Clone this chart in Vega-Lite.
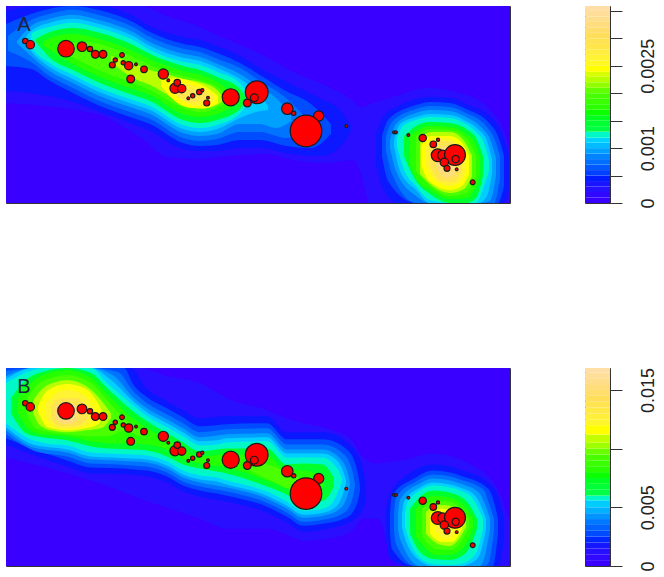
{"$schema":"https://vega.github.io/schema/vega-lite/v6.json","padding":{"left":5,"top":5,"right":0,"bottom":0},"background":"white","spacing":157,"resolve":{"scale":{"color":"independent"}},"datasets":{
"pts":[{"x":19.3,"y":35,"s":7},{"x":24.3,"y":38.7,"s":18.5},{"x":60,"y":42.7,"s":76},{"x":76,"y":40.7,"s":25},{"x":84,"y":43,"s":7},{"x":89.3,"y":48.3,"s":16},{"x":97,"y":48.3,"s":16},{"x":116,"y":49,"s":5.3},{"x":109.3,"y":54,"s":4},{"x":106.3,"y":59,"s":9},{"x":117.3,"y":56.7,"s":4},{"x":122.7,"y":59.7,"s":18.5},{"x":130,"y":58.3,"s":1},{"x":138,"y":63.3,"s":11},{"x":124.7,"y":73,"s":16},{"x":157.3,"y":68,"s":28},{"x":162.3,"y":74.3,"s":1},{"x":169,"y":82.3,"s":28},{"x":171.3,"y":76.7,"s":11},{"x":175.7,"y":82.7,"s":18.5},{"x":182.3,"y":92.3,"s":1},{"x":186.7,"y":89.7,"s":4},{"x":193.3,"y":86,"s":7},{"x":196.3,"y":84.3,"s":1.7},{"x":202,"y":91.7,"s":1},{"x":200.7,"y":97,"s":9},{"x":224.7,"y":91.3,"s":81},{"x":250.7,"y":86.3,"s":144},{"x":248.3,"y":91.7,"s":16},{"x":241.3,"y":97,"s":16},{"x":281.3,"y":102.7,"s":36},{"x":287.7,"y":107.3,"s":4},{"x":312.7,"y":110,"s":28},{"x":300,"y":125,"s":279},{"x":340.3,"y":120,"s":1},{"x":388,"y":126.3,"s":1},{"x":390,"y":126.3,"s":1},{"x":402.3,"y":129,"s":1},{"x":416.7,"y":132,"s":14},{"x":432,"y":133.7,"s":1.7},{"x":427.3,"y":138.3,"s":11},{"x":431.7,"y":149.3,"s":45},{"x":436.7,"y":149.3,"s":28},{"x":449,"y":149,"s":121},{"x":449.7,"y":153,"s":14},{"x":438.3,"y":156.3,"s":18.5},{"x":441,"y":162.3,"s":9},{"x":450.7,"y":163.3,"s":1},{"x":466.7,"y":176.3,"s":5.3}],
"heatA":[
{"l":0,"b":"a","x":0,"y":0,"y2":197},{"l":0,"b":"a","x":504,"y":0,"y2":197},
{"l":0.00018,"b":"a","x":0,"y":0,"y2":97},{"l":0.00018,"b":"a","x":94,"y":0,"y2":109},{"l":0.00018,"b":"a","x":127,"y":0,"y2":127},{"l":0.00018,"b":"a","x":134,"y":0,"y2":131},{"l":0.00018,"b":"a","x":161,"y":10,"y2":151},{"l":0.00018,"b":"a","x":194,"y":21,"y2":153},{"l":0.00018,"b":"a","x":211,"y":29,"y2":151},{"l":0.00018,"b":"a","x":261,"y":51,"y2":148},{"l":0.00018,"b":"a","x":287,"y":66,"y2":154},{"l":0.00018,"b":"a","x":321,"y":80,"y2":157},{"l":0.00018,"b":"a","x":347,"y":95,"y2":154},{"l":0.00018,"b":"a","x":354,"y":101,"y2":165},{"l":0.00018,"b":"a","x":364,"y":98,"y2":197},{"l":0.00018,"b":"a","x":387,"y":91,"y2":197},{"l":0.00018,"b":"a","x":421,"y":82,"y2":197},{"l":0.00018,"b":"a","x":454,"y":87,"y2":197},{"l":0.00018,"b":"a","x":487,"y":107,"y2":197},{"l":0.00018,"b":"a","x":502,"y":137,"y2":197},{"l":0.00018,"b":"a","x":504,"y":145,"y2":190},
{"l":0.00036,"b":"w","x":0,"y":5,"y2":85},{"l":0.00036,"b":"w","x":30,"y":0,"y2":88},{"l":0.00036,"b":"w","x":67,"y":0,"y2":96},{"l":0.00036,"b":"w","x":94,"y":0,"y2":106},{"l":0.00036,"b":"w","x":127,"y":10,"y2":118},{"l":0.00036,"b":"w","x":144,"y":20,"y2":125},{"l":0.00036,"b":"w","x":177,"y":31,"y2":143},{"l":0.00036,"b":"w","x":194,"y":34,"y2":145},{"l":0.00036,"b":"w","x":211,"y":40,"y2":145},{"l":0.00036,"b":"w","x":234,"y":50,"y2":142},{"l":0.00036,"b":"w","x":254,"y":62,"y2":142},{"l":0.00036,"b":"w","x":285,"y":78,"y2":148},{"l":0.00036,"b":"w","x":315,"y":93,"y2":150},{"l":0.00036,"b":"w","x":335,"y":105,"y2":140},{"l":0.00036,"b":"w","x":345,"y":120,"y2":125},
{"l":0.00036,"b":"e","x":370,"y":128,"y2":160},{"l":0.00036,"b":"e","x":378,"y":110,"y2":185},{"l":0.00036,"b":"e","x":392,"y":100,"y2":197},{"l":0.00036,"b":"e","x":410,"y":93,"y2":197},{"l":0.00036,"b":"e","x":424,"y":91,"y2":197},{"l":0.00036,"b":"e","x":444,"y":92,"y2":197},{"l":0.00036,"b":"e","x":460,"y":98,"y2":197},{"l":0.00036,"b":"e","x":488,"y":114,"y2":197},{"l":0.00036,"b":"e","x":497,"y":130,"y2":197},{"l":0.00036,"b":"e","x":503,"y":150,"y2":185},
{"l":0.00054,"b":"w","x":0,"y":18,"y2":60},{"l":0.00054,"b":"w","x":25,"y":8,"y2":63},{"l":0.00054,"b":"w","x":44,"y":2.7,"y2":75},{"l":0.00054,"b":"w","x":67,"y":0,"y2":87},{"l":0.00054,"b":"w","x":94,"y":4.3,"y2":100},{"l":0.00054,"b":"w","x":127,"y":16,"y2":112},{"l":0.00054,"b":"w","x":144,"y":26,"y2":118},{"l":0.00054,"b":"w","x":177,"y":37.7,"y2":137},{"l":0.00054,"b":"w","x":194,"y":41,"y2":140},{"l":0.00054,"b":"w","x":211,"y":47,"y2":139},{"l":0.00054,"b":"w","x":234,"y":57,"y2":134},{"l":0.00054,"b":"w","x":254,"y":69,"y2":134},{"l":0.00054,"b":"w","x":280,"y":85,"y2":140},{"l":0.00054,"b":"w","x":305,"y":98,"y2":142},{"l":0.00054,"b":"w","x":325,"y":118,"y2":128},
{"l":0.00054,"b":"e","x":376,"y":130,"y2":150},{"l":0.00054,"b":"e","x":382,"y":114,"y2":175},{"l":0.00054,"b":"e","x":410,"y":99,"y2":197},{"l":0.00054,"b":"e","x":424,"y":96,"y2":197},{"l":0.00054,"b":"e","x":444,"y":97,"y2":197},{"l":0.00054,"b":"e","x":460,"y":103,"y2":197},{"l":0.00054,"b":"e","x":484,"y":118,"y2":197},{"l":0.00054,"b":"e","x":492,"y":130,"y2":197},{"l":0.00054,"b":"e","x":498,"y":150,"y2":180},
{"l":0.00072,"b":"w","x":2,"y":30,"y2":45},{"l":0.00072,"b":"w","x":25,"y":14,"y2":56},{"l":0.00072,"b":"w","x":44,"y":7.7,"y2":70.3},{"l":0.00072,"b":"w","x":67,"y":3.7,"y2":82},{"l":0.00072,"b":"w","x":94,"y":9.3,"y2":95.3},{"l":0.00072,"b":"w","x":127,"y":21,"y2":107},{"l":0.00072,"b":"w","x":144,"y":31,"y2":113},{"l":0.00072,"b":"w","x":177,"y":42.7,"y2":132},{"l":0.00072,"b":"w","x":194,"y":46,"y2":135},{"l":0.00072,"b":"w","x":211,"y":52.7,"y2":133},{"l":0.00072,"b":"w","x":234,"y":62,"y2":126},{"l":0.00072,"b":"w","x":254,"y":75,"y2":126},{"l":0.00072,"b":"w","x":280,"y":92,"y2":132},{"l":0.00072,"b":"w","x":305,"y":118,"y2":122},
{"l":0.00072,"b":"e","x":380,"y":130,"y2":145},{"l":0.00072,"b":"e","x":386,"y":116,"y2":168},{"l":0.00072,"b":"e","x":410,"y":103,"y2":197},{"l":0.00072,"b":"e","x":424,"y":100,"y2":197},{"l":0.00072,"b":"e","x":444,"y":101,"y2":197},{"l":0.00072,"b":"e","x":460,"y":107,"y2":197},{"l":0.00072,"b":"e","x":480,"y":120,"y2":197},{"l":0.00072,"b":"e","x":488,"y":132,"y2":197},{"l":0.00072,"b":"e","x":494,"y":150,"y2":172},
{"l":0.0009,"b":"w","x":11,"y":35,"y2":37},{"l":0.0009,"b":"w","x":25,"y":20,"y2":50},{"l":0.0009,"b":"w","x":44,"y":12.7,"y2":65.3},{"l":0.0009,"b":"w","x":67,"y":8.7,"y2":77},{"l":0.0009,"b":"w","x":94,"y":14.3,"y2":90.3},{"l":0.0009,"b":"w","x":127,"y":26,"y2":102},{"l":0.0009,"b":"w","x":144,"y":36,"y2":108},{"l":0.0009,"b":"w","x":177,"y":47.7,"y2":127},{"l":0.0009,"b":"w","x":194,"y":51,"y2":130},{"l":0.0009,"b":"w","x":211,"y":57.7,"y2":128},{"l":0.0009,"b":"w","x":234,"y":68,"y2":118},{"l":0.0009,"b":"w","x":254,"y":82,"y2":118},{"l":0.0009,"b":"w","x":270,"y":92,"y2":122},{"l":0.0009,"b":"w","x":285,"y":110,"y2":115},
{"l":0.0009,"b":"e","x":384,"y":134,"y2":142},{"l":0.0009,"b":"e","x":390,"y":118,"y2":165},{"l":0.0009,"b":"e","x":410,"y":107,"y2":190},{"l":0.0009,"b":"e","x":424,"y":104,"y2":197},{"l":0.0009,"b":"e","x":444,"y":105,"y2":197},{"l":0.0009,"b":"e","x":460,"y":111,"y2":197},{"l":0.0009,"b":"e","x":476,"y":122,"y2":197},{"l":0.0009,"b":"e","x":484,"y":133,"y2":195},{"l":0.0009,"b":"e","x":490,"y":152,"y2":170},
{"l":0.00108,"b":"w","x":18,"y":33,"y2":35},{"l":0.00108,"b":"w","x":25,"y":25,"y2":45},{"l":0.00108,"b":"w","x":44,"y":16.7,"y2":61.3},{"l":0.00108,"b":"w","x":67,"y":12.7,"y2":73},{"l":0.00108,"b":"w","x":94,"y":18.3,"y2":86.3},{"l":0.00108,"b":"w","x":127,"y":30,"y2":98},{"l":0.00108,"b":"w","x":144,"y":40,"y2":104},{"l":0.00108,"b":"w","x":177,"y":51.7,"y2":123},{"l":0.00108,"b":"w","x":194,"y":55,"y2":126},{"l":0.00108,"b":"w","x":211,"y":61.7,"y2":123},{"l":0.00108,"b":"w","x":234,"y":73,"y2":112},{"l":0.00108,"b":"w","x":250,"y":85,"y2":106},{"l":0.00108,"b":"w","x":262,"y":100,"y2":104},
{"l":0.00108,"b":"e","x":388,"y":134,"y2":140},{"l":0.00108,"b":"e","x":394,"y":118,"y2":165},{"l":0.00108,"b":"e","x":410,"y":111,"y2":184},{"l":0.00108,"b":"e","x":424,"y":108,"y2":197},{"l":0.00108,"b":"e","x":444,"y":109,"y2":197},{"l":0.00108,"b":"e","x":460,"y":115,"y2":197},{"l":0.00108,"b":"e","x":473,"y":124,"y2":197},{"l":0.00108,"b":"e","x":481,"y":135,"y2":190},{"l":0.00108,"b":"e","x":486,"y":153,"y2":168},
{"l":0.00119,"b":"w","x":25,"y":33,"y2":33.5},{"l":0.00119,"b":"w","x":26,"y":27.3,"y2":40.7},{"l":0.00119,"b":"w","x":44,"y":20.7,"y2":57.3},{"l":0.00119,"b":"w","x":67,"y":16.7,"y2":69},{"l":0.00119,"b":"w","x":94,"y":22.3,"y2":82.3},{"l":0.00119,"b":"w","x":127,"y":34,"y2":94},{"l":0.00119,"b":"w","x":144,"y":44,"y2":100},{"l":0.00119,"b":"w","x":177,"y":55.7,"y2":119},{"l":0.00119,"b":"w","x":194,"y":59,"y2":122},{"l":0.00119,"b":"w","x":211,"y":65.7,"y2":119},{"l":0.00119,"b":"w","x":234,"y":77.3,"y2":107.3},{"l":0.00119,"b":"w","x":244,"y":92,"y2":94},
{"l":0.00119,"b":"e","x":391,"y":132,"y2":140},{"l":0.00119,"b":"e","x":397,"y":120,"y2":161},{"l":0.00119,"b":"e","x":410,"y":114,"y2":180},{"l":0.00119,"b":"e","x":424,"y":111,"y2":194},{"l":0.00119,"b":"e","x":444,"y":112,"y2":197},{"l":0.00119,"b":"e","x":460,"y":118,"y2":197},{"l":0.00119,"b":"e","x":470,"y":126,"y2":197},{"l":0.00119,"b":"e","x":478,"y":137,"y2":180},{"l":0.00119,"b":"e","x":483,"y":155,"y2":165},
{"l":0.00144,"b":"w","x":30,"y":33,"y2":36},{"l":0.00144,"b":"w","x":44,"y":26,"y2":52},{"l":0.00144,"b":"w","x":67,"y":22,"y2":64},{"l":0.00144,"b":"w","x":94,"y":27,"y2":77},{"l":0.00144,"b":"w","x":127,"y":39,"y2":89},{"l":0.00144,"b":"w","x":144,"y":48,"y2":95},{"l":0.00144,"b":"w","x":177,"y":60,"y2":114},{"l":0.00144,"b":"w","x":194,"y":64,"y2":117},{"l":0.00144,"b":"w","x":211,"y":71,"y2":114},{"l":0.00144,"b":"w","x":234,"y":83,"y2":103},{"l":0.00144,"b":"w","x":240,"y":92,"y2":95},
{"l":0.00144,"b":"e","x":398,"y":130,"y2":150},{"l":0.00144,"b":"e","x":410,"y":120,"y2":175},{"l":0.00144,"b":"e","x":424,"y":116,"y2":188},{"l":0.00144,"b":"e","x":444,"y":117,"y2":197},{"l":0.00144,"b":"e","x":460,"y":123,"y2":197},{"l":0.00144,"b":"e","x":470,"y":132,"y2":192},{"l":0.00144,"b":"e","x":477,"y":150,"y2":170},
{"l":0.00169,"b":"w","x":38,"y":35,"y2":40},{"l":0.00169,"b":"w","x":50,"y":30,"y2":48},{"l":0.00169,"b":"w","x":67,"y":28,"y2":58},{"l":0.00169,"b":"w","x":94,"y":33,"y2":71},{"l":0.00169,"b":"w","x":127,"y":45,"y2":83},{"l":0.00169,"b":"w","x":144,"y":53,"y2":89},{"l":0.00169,"b":"w","x":177,"y":65,"y2":108},{"l":0.00169,"b":"w","x":194,"y":69,"y2":111},{"l":0.00169,"b":"w","x":211,"y":76,"y2":108},{"l":0.00169,"b":"w","x":230,"y":90,"y2":98},
{"l":0.00169,"b":"e","x":404,"y":130,"y2":160},{"l":0.00169,"b":"e","x":412,"y":124,"y2":175},{"l":0.00169,"b":"e","x":424,"y":120,"y2":184},{"l":0.00169,"b":"e","x":444,"y":121,"y2":193},{"l":0.00169,"b":"e","x":460,"y":128,"y2":192},{"l":0.00169,"b":"e","x":468,"y":136,"y2":185},{"l":0.00169,"b":"e","x":474,"y":152,"y2":168},
{"l":0.00194,"b":"w","x":60,"y":38,"y2":48},{"l":0.00194,"b":"w","x":80,"y":36,"y2":58},{"l":0.00194,"b":"w","x":100,"y":40,"y2":67},{"l":0.00194,"b":"w","x":127,"y":51,"y2":77},{"l":0.00194,"b":"w","x":144,"y":59,"y2":84},{"l":0.00194,"b":"w","x":177,"y":70,"y2":102},{"l":0.00194,"b":"w","x":194,"y":74,"y2":106},{"l":0.00194,"b":"w","x":211,"y":81,"y2":102},{"l":0.00194,"b":"w","x":224,"y":92,"y2":94},
{"l":0.00194,"b":"e","x":410,"y":130,"y2":165},{"l":0.00194,"b":"e","x":424,"y":123,"y2":180},{"l":0.00194,"b":"e","x":444,"y":124,"y2":190},{"l":0.00194,"b":"e","x":460,"y":132,"y2":187},{"l":0.00194,"b":"e","x":470,"y":150,"y2":170},
{"l":0.0022,"b":"w","x":105,"y":50,"y2":56},{"l":0.0022,"b":"w","x":127,"y":57,"y2":72},{"l":0.0022,"b":"w","x":144,"y":64,"y2":79},{"l":0.0022,"b":"w","x":160,"y":68,"y2":88},{"l":0.0022,"b":"w","x":177,"y":73,"y2":98},{"l":0.0022,"b":"w","x":194,"y":76,"y2":103},{"l":0.0022,"b":"w","x":211,"y":84,"y2":99},{"l":0.0022,"b":"w","x":218,"y":92,"y2":94},
{"l":0.0022,"b":"e","x":414,"y":132,"y2":168},{"l":0.0022,"b":"e","x":424,"y":126,"y2":178},{"l":0.0022,"b":"e","x":444,"y":126,"y2":187},{"l":0.0022,"b":"e","x":458,"y":135,"y2":183},{"l":0.0022,"b":"e","x":466,"y":150,"y2":170},
{"l":0.00239,"b":"w","x":155,"y":74,"y2":80},{"l":0.00239,"b":"w","x":170,"y":72,"y2":96},{"l":0.00239,"b":"w","x":185,"y":75,"y2":102},{"l":0.00239,"b":"w","x":200,"y":81,"y2":102},{"l":0.00239,"b":"w","x":212,"y":90,"y2":97},
{"l":0.00239,"b":"e","x":415,"y":140,"y2":160},{"l":0.00239,"b":"e","x":424,"y":130,"y2":176},{"l":0.00239,"b":"e","x":444,"y":130,"y2":184},{"l":0.00239,"b":"e","x":456,"y":137,"y2":180},{"l":0.00239,"b":"e","x":463,"y":150,"y2":168},
{"l":0.00259,"b":"w","x":165,"y":80,"y2":85},{"l":0.00259,"b":"w","x":175,"y":77,"y2":94},{"l":0.00259,"b":"w","x":190,"y":80,"y2":100},{"l":0.00259,"b":"w","x":205,"y":86,"y2":97},{"l":0.00259,"b":"w","x":209,"y":91,"y2":93},
{"l":0.00259,"b":"e","x":420,"y":140,"y2":160},{"l":0.00259,"b":"e","x":430,"y":132,"y2":175},{"l":0.00259,"b":"e","x":444,"y":133,"y2":180},{"l":0.00259,"b":"e","x":455,"y":142,"y2":175},{"l":0.00259,"b":"e","x":460,"y":155,"y2":165},
{"l":0.00288,"b":"w","x":172,"y":84,"y2":90},{"l":0.00288,"b":"w","x":185,"y":83,"y2":96},{"l":0.00288,"b":"w","x":200,"y":87,"y2":94},{"l":0.00288,"b":"w","x":203,"y":90,"y2":91},
{"l":0.00288,"b":"e","x":424,"y":142,"y2":160},{"l":0.00288,"b":"e","x":435,"y":135,"y2":175},{"l":0.00288,"b":"e","x":447,"y":137,"y2":176},{"l":0.00288,"b":"e","x":456,"y":150,"y2":165},
{"l":0.00317,"b":"e","x":430,"y":145,"y2":160},{"l":0.00317,"b":"e","x":440,"y":140,"y2":172},{"l":0.00317,"b":"e","x":450,"y":145,"y2":168}
],
"heatB":[
{"l":0,"b":"a","x":0,"y":0,"y2":197},{"l":0,"b":"a","x":504,"y":0,"y2":197},
{"l":0.00085,"b":"a","x":0,"y":0,"y2":89},{"l":0.00085,"b":"a","x":94,"y":0,"y2":115},{"l":0.00085,"b":"a","x":134,"y":0,"y2":130},{"l":0.00085,"b":"a","x":161,"y":8,"y2":139},{"l":0.00085,"b":"a","x":194,"y":15,"y2":150},{"l":0.00085,"b":"a","x":221,"y":30,"y2":160},{"l":0.00085,"b":"a","x":261,"y":42,"y2":160},{"l":0.00085,"b":"a","x":281,"y":50,"y2":166},{"l":0.00085,"b":"a","x":297,"y":55,"y2":172},{"l":0.00085,"b":"a","x":321,"y":60,"y2":170},{"l":0.00085,"b":"a","x":346,"y":72,"y2":162},{"l":0.00085,"b":"a","x":357,"y":89,"y2":150},{"l":0.00085,"b":"a","x":372,"y":95,"y2":150},{"l":0.00085,"b":"a","x":387,"y":93,"y2":192},{"l":0.00085,"b":"a","x":395,"y":92,"y2":197},{"l":0.00085,"b":"a","x":427,"y":85,"y2":197},{"l":0.00085,"b":"a","x":467,"y":97,"y2":197},{"l":0.00085,"b":"a","x":494,"y":125,"y2":197},{"l":0.00085,"b":"a","x":502,"y":149,"y2":197},{"l":0.00085,"b":"a","x":504,"y":155,"y2":185},
{"l":0.0017,"b":"w","x":0,"y":0,"y2":76},{"l":0.0017,"b":"w","x":61,"y":0,"y2":98},{"l":0.0017,"b":"w","x":85,"y":0,"y2":105},{"l":0.0017,"b":"w","x":125,"y":0,"y2":106},{"l":0.0017,"b":"w","x":141,"y":21,"y2":108},{"l":0.0017,"b":"w","x":161,"y":33,"y2":114},{"l":0.0017,"b":"w","x":177,"y":42,"y2":123},{"l":0.0017,"b":"w","x":194,"y":50,"y2":128},{"l":0.0017,"b":"w","x":221,"y":48,"y2":133},{"l":0.0017,"b":"w","x":261,"y":48,"y2":144},{"l":0.0017,"b":"w","x":281,"y":64,"y2":154},{"l":0.0017,"b":"w","x":297,"y":64,"y2":163},{"l":0.0017,"b":"w","x":317,"y":64,"y2":161},{"l":0.0017,"b":"w","x":346,"y":78,"y2":152},{"l":0.0017,"b":"w","x":358,"y":105,"y2":138},{"l":0.0017,"b":"w","x":360,"y":120,"y2":128},
{"l":0.0017,"b":"e","x":380,"y":140,"y2":170},{"l":0.0017,"b":"e","x":384,"y":125,"y2":190},{"l":0.0017,"b":"e","x":405,"y":104,"y2":197},{"l":0.0017,"b":"e","x":427,"y":96,"y2":197},{"l":0.0017,"b":"e","x":444,"y":98,"y2":197},{"l":0.0017,"b":"e","x":454,"y":101,"y2":197},{"l":0.0017,"b":"e","x":486,"y":117,"y2":197},{"l":0.0017,"b":"e","x":493,"y":130,"y2":197},{"l":0.0017,"b":"e","x":498,"y":150,"y2":170},
{"l":0.0025,"b":"w","x":0,"y":0,"y2":70},{"l":0.0025,"b":"w","x":61,"y":0,"y2":92},{"l":0.0025,"b":"w","x":85,"y":0,"y2":99},{"l":0.0025,"b":"w","x":118,"y":0,"y2":100},{"l":0.0025,"b":"w","x":127,"y":16,"y2":101},{"l":0.0025,"b":"w","x":141,"y":29,"y2":102},{"l":0.0025,"b":"w","x":161,"y":40,"y2":108},{"l":0.0025,"b":"w","x":177,"y":49,"y2":117},{"l":0.0025,"b":"w","x":194,"y":58,"y2":122},{"l":0.0025,"b":"w","x":221,"y":56,"y2":127},{"l":0.0025,"b":"w","x":261,"y":55,"y2":138},{"l":0.0025,"b":"w","x":281,"y":71,"y2":148},{"l":0.0025,"b":"w","x":297,"y":71,"y2":157},{"l":0.0025,"b":"w","x":317,"y":71,"y2":155},{"l":0.0025,"b":"w","x":342,"y":82,"y2":148},{"l":0.0025,"b":"w","x":352,"y":105,"y2":132},{"l":0.0025,"b":"w","x":354,"y":118,"y2":122},
{"l":0.0025,"b":"e","x":384,"y":145,"y2":165},{"l":0.0025,"b":"e","x":386,"y":127,"y2":180},{"l":0.0025,"b":"e","x":408,"y":110,"y2":197},{"l":0.0025,"b":"e","x":427,"y":102,"y2":197},{"l":0.0025,"b":"e","x":444,"y":104,"y2":197},{"l":0.0025,"b":"e","x":454,"y":107,"y2":197},{"l":0.0025,"b":"e","x":482,"y":120,"y2":197},{"l":0.0025,"b":"e","x":487,"y":130,"y2":197},{"l":0.0025,"b":"e","x":492,"y":150,"y2":165},
{"l":0.0034,"b":"w","x":0,"y":3,"y2":66},{"l":0.0034,"b":"w","x":30,"y":0,"y2":83},{"l":0.0034,"b":"w","x":61,"y":0,"y2":88},{"l":0.0034,"b":"w","x":85,"y":0,"y2":95},{"l":0.0034,"b":"w","x":112,"y":4,"y2":96},{"l":0.0034,"b":"w","x":127,"y":23,"y2":97},{"l":0.0034,"b":"w","x":141,"y":35,"y2":98},{"l":0.0034,"b":"w","x":161,"y":46,"y2":104},{"l":0.0034,"b":"w","x":177,"y":55,"y2":113},{"l":0.0034,"b":"w","x":194,"y":64,"y2":118},{"l":0.0034,"b":"w","x":221,"y":61,"y2":123},{"l":0.0034,"b":"w","x":261,"y":60,"y2":134},{"l":0.0034,"b":"w","x":281,"y":76,"y2":144},{"l":0.0034,"b":"w","x":297,"y":76,"y2":153},{"l":0.0034,"b":"w","x":317,"y":76,"y2":151},{"l":0.0034,"b":"w","x":338,"y":86,"y2":144},{"l":0.0034,"b":"w","x":347,"y":105,"y2":128},{"l":0.0034,"b":"w","x":349,"y":116,"y2":118},
{"l":0.0034,"b":"e","x":388,"y":145,"y2":162},{"l":0.0034,"b":"e","x":390,"y":129,"y2":175},{"l":0.0034,"b":"e","x":410,"y":113,"y2":197},{"l":0.0034,"b":"e","x":427,"y":106,"y2":197},{"l":0.0034,"b":"e","x":444,"y":108,"y2":197},{"l":0.0034,"b":"e","x":454,"y":111,"y2":197},{"l":0.0034,"b":"e","x":478,"y":122,"y2":197},{"l":0.0034,"b":"e","x":482,"y":132,"y2":195},{"l":0.0034,"b":"e","x":488,"y":150,"y2":162},
{"l":0.0042,"b":"w","x":0,"y":8,"y2":62},{"l":0.0042,"b":"w","x":27,"y":0,"y2":79},{"l":0.0042,"b":"w","x":61,"y":0,"y2":84},{"l":0.0042,"b":"w","x":85,"y":0,"y2":91},{"l":0.0042,"b":"w","x":108,"y":8,"y2":92},{"l":0.0042,"b":"w","x":127,"y":29,"y2":93},{"l":0.0042,"b":"w","x":141,"y":40,"y2":94},{"l":0.0042,"b":"w","x":161,"y":51,"y2":100},{"l":0.0042,"b":"w","x":177,"y":60,"y2":109},{"l":0.0042,"b":"w","x":194,"y":69,"y2":114},{"l":0.0042,"b":"w","x":221,"y":66,"y2":119},{"l":0.0042,"b":"w","x":261,"y":65,"y2":130},{"l":0.0042,"b":"w","x":281,"y":81,"y2":140},{"l":0.0042,"b":"w","x":297,"y":81,"y2":149},{"l":0.0042,"b":"w","x":317,"y":81,"y2":147},{"l":0.0042,"b":"w","x":334,"y":90,"y2":140},{"l":0.0042,"b":"w","x":342,"y":105,"y2":125},{"l":0.0042,"b":"w","x":344,"y":115,"y2":116},
{"l":0.0042,"b":"e","x":392,"y":145,"y2":160},{"l":0.0042,"b":"e","x":394,"y":131,"y2":170},{"l":0.0042,"b":"e","x":414,"y":115,"y2":197},{"l":0.0042,"b":"e","x":427,"y":110,"y2":197},{"l":0.0042,"b":"e","x":444,"y":112,"y2":197},{"l":0.0042,"b":"e","x":454,"y":115,"y2":197},{"l":0.0042,"b":"e","x":474,"y":125,"y2":197},{"l":0.0042,"b":"e","x":478,"y":133,"y2":190},{"l":0.0042,"b":"e","x":484,"y":150,"y2":160},
{"l":0.0051,"b":"w","x":0,"y":11,"y2":59},{"l":0.0051,"b":"w","x":27,"y":0,"y2":76},{"l":0.0051,"b":"w","x":61,"y":0,"y2":81},{"l":0.0051,"b":"w","x":85,"y":0,"y2":88},{"l":0.0051,"b":"w","x":105,"y":12,"y2":89},{"l":0.0051,"b":"w","x":127,"y":33,"y2":90},{"l":0.0051,"b":"w","x":141,"y":44,"y2":91},{"l":0.0051,"b":"w","x":161,"y":55,"y2":97},{"l":0.0051,"b":"w","x":177,"y":64,"y2":106},{"l":0.0051,"b":"w","x":194,"y":73,"y2":111},{"l":0.0051,"b":"w","x":211,"y":72,"y2":113},{"l":0.0051,"b":"w","x":221,"y":70,"y2":116},{"l":0.0051,"b":"w","x":261,"y":69,"y2":127},{"l":0.0051,"b":"w","x":281,"y":85,"y2":137},{"l":0.0051,"b":"w","x":297,"y":85,"y2":146},{"l":0.0051,"b":"w","x":317,"y":85,"y2":144},{"l":0.0051,"b":"w","x":331,"y":92,"y2":137},{"l":0.0051,"b":"w","x":338,"y":105,"y2":122},{"l":0.0051,"b":"w","x":340,"y":112,"y2":114},
{"l":0.0051,"b":"e","x":396,"y":145,"y2":158},{"l":0.0051,"b":"e","x":398,"y":133,"y2":167},{"l":0.0051,"b":"e","x":414,"y":119,"y2":192},{"l":0.0051,"b":"e","x":427,"y":114,"y2":197},{"l":0.0051,"b":"e","x":444,"y":116,"y2":197},{"l":0.0051,"b":"e","x":454,"y":119,"y2":197},{"l":0.0051,"b":"e","x":470,"y":128,"y2":191},{"l":0.0051,"b":"e","x":474,"y":135,"y2":185},{"l":0.0051,"b":"e","x":480,"y":150,"y2":160},
{"l":0.0056,"b":"w","x":0,"y":15,"y2":55},{"l":0.0056,"b":"w","x":27,"y":2,"y2":72},{"l":0.0056,"b":"w","x":40,"y":0,"y2":75},{"l":0.0056,"b":"w","x":61,"y":0,"y2":77},{"l":0.0056,"b":"w","x":85,"y":0,"y2":84},{"l":0.0056,"b":"w","x":101,"y":15,"y2":85},{"l":0.0056,"b":"w","x":127,"y":37,"y2":86},{"l":0.0056,"b":"w","x":141,"y":48,"y2":87},{"l":0.0056,"b":"w","x":161,"y":59,"y2":93},{"l":0.0056,"b":"w","x":177,"y":68,"y2":102},{"l":0.0056,"b":"w","x":194,"y":77,"y2":107},{"l":0.0056,"b":"w","x":211,"y":76,"y2":109},{"l":0.0056,"b":"w","x":221,"y":74,"y2":112},{"l":0.0056,"b":"w","x":261,"y":73,"y2":123},{"l":0.0056,"b":"w","x":281,"y":89,"y2":133},{"l":0.0056,"b":"w","x":297,"y":89,"y2":142},{"l":0.0056,"b":"w","x":317,"y":89,"y2":140},{"l":0.0056,"b":"w","x":327,"y":95,"y2":133},{"l":0.0056,"b":"w","x":334,"y":105,"y2":118},{"l":0.0056,"b":"w","x":336,"y":110,"y2":112},
{"l":0.0056,"b":"e","x":399,"y":145,"y2":158},{"l":0.0056,"b":"e","x":401,"y":135,"y2":165},{"l":0.0056,"b":"e","x":414,"y":122,"y2":189},{"l":0.0056,"b":"e","x":427,"y":117,"y2":195},{"l":0.0056,"b":"e","x":444,"y":119,"y2":196},{"l":0.0056,"b":"e","x":454,"y":122,"y2":195},{"l":0.0056,"b":"e","x":467,"y":130,"y2":188},{"l":0.0056,"b":"e","x":471,"y":137,"y2":182},{"l":0.0056,"b":"e","x":477,"y":150,"y2":160},
{"l":0.0068,"b":"w","x":5,"y":30,"y2":45},{"l":0.0068,"b":"w","x":20,"y":12,"y2":65},{"l":0.0068,"b":"w","x":30,"y":6,"y2":68},{"l":0.0068,"b":"w","x":61,"y":0,"y2":72},{"l":0.0068,"b":"w","x":85,"y":5,"y2":78},{"l":0.0068,"b":"w","x":101,"y":20,"y2":80},{"l":0.0068,"b":"w","x":127,"y":43,"y2":81},{"l":0.0068,"b":"w","x":141,"y":53,"y2":82},{"l":0.0068,"b":"w","x":161,"y":65,"y2":88},{"l":0.0068,"b":"w","x":177,"y":74,"y2":96},{"l":0.0068,"b":"w","x":194,"y":83,"y2":100},{"l":0.0068,"b":"w","x":221,"y":80,"y2":105},{"l":0.0068,"b":"w","x":261,"y":80,"y2":118},{"l":0.0068,"b":"w","x":281,"y":96,"y2":126},{"l":0.0068,"b":"w","x":297,"y":95,"y2":135},{"l":0.0068,"b":"w","x":317,"y":96,"y2":132},{"l":0.0068,"b":"w","x":322,"y":100,"y2":128},{"l":0.0068,"b":"w","x":328,"y":110,"y2":118},
{"l":0.0068,"b":"e","x":404,"y":140,"y2":165},{"l":0.0068,"b":"e","x":414,"y":128,"y2":183},{"l":0.0068,"b":"e","x":427,"y":122,"y2":190},{"l":0.0068,"b":"e","x":444,"y":124,"y2":191},{"l":0.0068,"b":"e","x":460,"y":132,"y2":184},{"l":0.0068,"b":"e","x":471,"y":150,"y2":160},
{"l":0.0079,"b":"w","x":12,"y":30,"y2":45},{"l":0.0079,"b":"w","x":22,"y":18,"y2":60},{"l":0.0079,"b":"w","x":35,"y":8,"y2":66},{"l":0.0079,"b":"w","x":61,"y":2,"y2":68},{"l":0.0079,"b":"w","x":85,"y":10,"y2":73},{"l":0.0079,"b":"w","x":101,"y":26,"y2":75},{"l":0.0079,"b":"w","x":127,"y":50,"y2":75},{"l":0.0079,"b":"w","x":141,"y":60,"y2":76},{"l":0.0079,"b":"w","x":161,"y":71,"y2":81},{"l":0.0079,"b":"w","x":177,"y":81,"y2":90},{"l":0.0079,"b":"w","x":194,"y":88,"y2":95},{"l":0.0079,"b":"w","x":221,"y":86,"y2":99},{"l":0.0079,"b":"w","x":261,"y":87,"y2":112},{"l":0.0079,"b":"w","x":281,"y":102,"y2":120},{"l":0.0079,"b":"w","x":297,"y":102,"y2":128},{"l":0.0079,"b":"w","x":310,"y":105,"y2":124},{"l":0.0079,"b":"w","x":318,"y":112,"y2":118},
{"l":0.0079,"b":"e","x":410,"y":140,"y2":168},{"l":0.0079,"b":"e","x":420,"y":130,"y2":180},{"l":0.0079,"b":"e","x":430,"y":127,"y2":186},{"l":0.0079,"b":"e","x":444,"y":129,"y2":186},{"l":0.0079,"b":"e","x":458,"y":137,"y2":178},{"l":0.0079,"b":"e","x":467,"y":150,"y2":160},
{"l":0.0091,"b":"w","x":20,"y":32,"y2":44},{"l":0.0091,"b":"w","x":30,"y":18,"y2":60},{"l":0.0091,"b":"w","x":45,"y":10,"y2":64},{"l":0.0091,"b":"w","x":61,"y":7,"y2":66},{"l":0.0091,"b":"w","x":85,"y":15,"y2":68},{"l":0.0091,"b":"w","x":101,"y":32,"y2":68},{"l":0.0091,"b":"w","x":120,"y":52,"y2":62},{"l":0.0091,"b":"w","x":135,"y":62,"y2":68},{"l":0.0091,"b":"w","x":140,"y":65,"y2":68},
{"l":0.0091,"b":"p","x":240,"y":92,"y2":100},{"l":0.0091,"b":"p","x":265,"y":97,"y2":112},{"l":0.0091,"b":"p","x":290,"y":108,"y2":122},{"l":0.0091,"b":"p","x":305,"y":115,"y2":120},
{"l":0.0091,"b":"e","x":416,"y":140,"y2":168},{"l":0.0091,"b":"e","x":430,"y":132,"y2":180},{"l":0.0091,"b":"e","x":444,"y":133,"y2":181},{"l":0.0091,"b":"e","x":455,"y":140,"y2":173},{"l":0.0091,"b":"e","x":463,"y":150,"y2":158},
{"l":0.0103,"b":"w","x":27,"y":33,"y2":45},{"l":0.0103,"b":"w","x":35,"y":22,"y2":58},{"l":0.0103,"b":"w","x":50,"y":14,"y2":63},{"l":0.0103,"b":"w","x":61,"y":12,"y2":64},{"l":0.0103,"b":"w","x":80,"y":18,"y2":62},{"l":0.0103,"b":"w","x":95,"y":32,"y2":60},{"l":0.0103,"b":"w","x":105,"y":45,"y2":50},
{"l":0.0103,"b":"e","x":420,"y":143,"y2":165},{"l":0.0103,"b":"e","x":432,"y":136,"y2":175},{"l":0.0103,"b":"e","x":444,"y":137,"y2":177},{"l":0.0103,"b":"e","x":453,"y":143,"y2":170},{"l":0.0103,"b":"e","x":460,"y":152,"y2":158},
{"l":0.0113,"b":"w","x":32,"y":38,"y2":44},{"l":0.0113,"b":"w","x":42,"y":22,"y2":59},{"l":0.0113,"b":"w","x":61,"y":16,"y2":62},{"l":0.0113,"b":"w","x":80,"y":21,"y2":60},{"l":0.0113,"b":"w","x":92,"y":35,"y2":56},{"l":0.0113,"b":"w","x":97,"y":45,"y2":48},
{"l":0.0113,"b":"e","x":424,"y":145,"y2":165},{"l":0.0113,"b":"e","x":435,"y":140,"y2":173},{"l":0.0113,"b":"e","x":446,"y":141,"y2":173},{"l":0.0113,"b":"e","x":456,"y":152,"y2":160},
{"l":0.0122,"b":"w","x":40,"y":35,"y2":50},{"l":0.0122,"b":"w","x":50,"y":25,"y2":60},{"l":0.0122,"b":"w","x":61,"y":22,"y2":61},{"l":0.0122,"b":"w","x":78,"y":27,"y2":58},{"l":0.0122,"b":"w","x":88,"y":40,"y2":52},
{"l":0.0122,"b":"e","x":430,"y":148,"y2":163},{"l":0.0122,"b":"e","x":440,"y":146,"y2":170},{"l":0.0122,"b":"e","x":450,"y":150,"y2":163},
{"l":0.0135,"b":"w","x":45,"y":38,"y2":50},{"l":0.0135,"b":"w","x":55,"y":30,"y2":58},{"l":0.0135,"b":"w","x":70,"y":30,"y2":58},{"l":0.0135,"b":"w","x":82,"y":40,"y2":50},
{"l":0.0149,"b":"w","x":50,"y":38,"y2":52},{"l":0.0149,"b":"w","x":60,"y":34,"y2":56},{"l":0.0149,"b":"w","x":72,"y":38,"y2":52}
],
"barA":[{"v":0,"v2":0.0001},{"v":0.0001,"v2":0.0002},{"v":0.0002,"v2":0.0003},{"v":0.0003,"v2":0.0004},{"v":0.0004,"v2":0.0005},{"v":0.0005,"v2":0.0006},{"v":0.0006,"v2":0.0007},{"v":0.0007,"v2":0.0008},{"v":0.0008,"v2":0.0009},{"v":0.0009,"v2":0.001},{"v":0.001,"v2":0.0011},{"v":0.0011,"v2":0.00119},{"v":0.00119,"v2":0.0013},{"v":0.0013,"v2":0.0014},{"v":0.0014,"v2":0.0015},{"v":0.0015,"v2":0.0016},{"v":0.0016,"v2":0.0017},{"v":0.0017,"v2":0.0018},{"v":0.0018,"v2":0.0019},{"v":0.0019,"v2":0.002},{"v":0.002,"v2":0.0021},{"v":0.0021,"v2":0.0022},{"v":0.0022,"v2":0.0023},{"v":0.0023,"v2":0.00239},{"v":0.00239,"v2":0.0025},{"v":0.0025,"v2":0.0026},{"v":0.0026,"v2":0.0027},{"v":0.0027,"v2":0.0028},{"v":0.0028,"v2":0.0029},{"v":0.0029,"v2":0.003},{"v":0.003,"v2":0.0031},{"v":0.0031,"v2":0.0032},{"v":0.0032,"v2":0.0033},{"v":0.0033,"v2":0.0034},{"v":0.0034,"v2":0.0035},{"v":0.0035,"v2":0.00359}],
"barB":[{"v":0,"v2":0.0005},{"v":0.0005,"v2":0.001},{"v":0.001,"v2":0.0015},{"v":0.0015,"v2":0.002},{"v":0.002,"v2":0.0025},{"v":0.0025,"v2":0.003},{"v":0.003,"v2":0.0035},{"v":0.0035,"v2":0.004},{"v":0.004,"v2":0.0045},{"v":0.0045,"v2":0.005},{"v":0.005,"v2":0.0056},{"v":0.0056,"v2":0.006},{"v":0.006,"v2":0.0065},{"v":0.0065,"v2":0.007},{"v":0.007,"v2":0.0075},{"v":0.0075,"v2":0.008},{"v":0.008,"v2":0.0085},{"v":0.0085,"v2":0.009},{"v":0.009,"v2":0.0095},{"v":0.0095,"v2":0.01},{"v":0.01,"v2":0.0105},{"v":0.0105,"v2":0.0112},{"v":0.0112,"v2":0.012},{"v":0.012,"v2":0.0125},{"v":0.0125,"v2":0.013},{"v":0.013,"v2":0.0135},{"v":0.0135,"v2":0.014},{"v":0.014,"v2":0.0145},{"v":0.0145,"v2":0.015},{"v":0.015,"v2":0.0155},{"v":0.0155,"v2":0.016},{"v":0.016,"v2":0.0165},{"v":0.0165,"v2":0.01687}]
},
"vconcat":[
{"hconcat":[
{"width":504,"height":197,"view":{"stroke":"#333","strokeWidth":1},"layer":[
{"data":{"name":"heatA"},"mark":{"type":"area","interpolate":"monotone","clip":true},"encoding":{"x":{"field":"x","type":"quantitative","scale":{"domain":[0,504],"nice":false,"zero":false},"axis":null},"y":{"field":"y","type":"quantitative","scale":{"domain":[197,0],"nice":false,"zero":false},"axis":null},"y2":{"field":"y2"},"detail":[{"field":"l"},{"field":"b"}],"color":{"field":"l","type":"quantitative","legend":null,"scale":{"domain":[0,0.000395,0.00079,0.00118,0.0012,0.00158,0.00197,0.00235,0.00239,0.00298,0.00359],"range":["#3A00FF","#0019FF","#0080FF","#00E5FF","#00FF4D","#00FF00","#4DFF00","#E6FF00","#FFFF00","#FFDE59","#FFE0B3"]}}}},
{"data":{"name":"pts"},"mark":{"type":"point","shape":"circle","filled":true,"fill":"#FF0000","stroke":"#1a1a1a","strokeWidth":1.2,"opacity":1},"encoding":{"x":{"field":"x","type":"quantitative"},"y":{"field":"y","type":"quantitative"},"size":{"field":"s","type":"quantitative","legend":null,"scale":{"domain":[0,280],"range":[4,1000]}}}},
{"data":{"values":[{"x":18,"y":19,"t":"A"}]},"mark":{"type":"text","fontSize":20,"font":"Liberation Sans","color":"#1c2440","align":"center","baseline":"middle"},"encoding":{"x":{"field":"x","type":"quantitative"},"y":{"field":"y","type":"quantitative"},"text":{"field":"t"}}}
]},
{"width":25,"height":197,"view":{"stroke":"#333","strokeWidth":1},"data":{"name":"barA"},"mark":{"type":"rect"},"encoding":{"y":{"field":"v","type":"quantitative","scale":{"domain":[0,0.00359],"nice":false,"zero":false},"axis":{"orient":"right","title":null,"grid":false,"domain":false,"values":[0,0.0005,0.001,0.0015,0.002,0.0025,0.003,0.0035],"tickSize":12,"tickColor":"#333","tickWidth":1,"labelAngle":-90,"labelAlign":"center","labelBaseline":"middle","labelPadding":26,"labelFontSize":18,"labelFont":"Liberation Sans","labelColor":"#222","labelOverlap":false,"labelBound":false,"labelFlush":false,"labelExpr":"datum.value==0?'0':datum.value==0.001?'0.001':datum.value==0.0025?'0.0025':''"}},"y2":{"field":"v2"},"color":{"field":"v","type":"quantitative","legend":null,"scale":{"domain":[0,0.000395,0.00079,0.00118,0.0012,0.00158,0.00197,0.00235,0.00239,0.00298,0.00359],"range":["#3A00FF","#0019FF","#0080FF","#00E5FF","#00FF4D","#00FF00","#4DFF00","#E6FF00","#FFFF00","#FFDE59","#FFE0B3"]}}}}
],"spacing":73},
{"hconcat":[
{"width":504,"height":198,"view":{"stroke":"#333","strokeWidth":1},"layer":[
{"data":{"name":"heatB"},"mark":{"type":"area","interpolate":"monotone","clip":true},"encoding":{"x":{"field":"x","type":"quantitative","scale":{"domain":[0,504],"nice":false,"zero":false},"axis":null},"y":{"field":"y","type":"quantitative","scale":{"domain":[197,0],"nice":false,"zero":false},"axis":null},"y2":{"field":"y2"},"detail":[{"field":"l"},{"field":"b"}],"color":{"field":"l","type":"quantitative","legend":null,"scale":{"domain":[0,0.00186,0.0037,0.0055,0.0057,0.0074,0.0093,0.0110,0.0112,0.014,0.01687],"range":["#3A00FF","#0019FF","#0080FF","#00E5FF","#00FF4D","#00FF00","#4DFF00","#E6FF00","#FFFF00","#FFDE59","#FFE0B3"]}}}},
{"data":{"name":"pts"},"mark":{"type":"point","shape":"circle","filled":true,"fill":"#FF0000","stroke":"#1a1a1a","strokeWidth":1.2,"opacity":1},"encoding":{"x":{"field":"x","type":"quantitative"},"y":{"field":"y","type":"quantitative"},"size":{"field":"s","type":"quantitative","legend":null,"scale":{"domain":[0,280],"range":[4,1000]}}}},
{"data":{"values":[{"x":18,"y":19,"t":"B"}]},"mark":{"type":"text","fontSize":20,"font":"Liberation Sans","color":"#1c2440","align":"center","baseline":"middle"},"encoding":{"x":{"field":"x","type":"quantitative"},"y":{"field":"y","type":"quantitative"},"text":{"field":"t"}}}
]},
{"width":25,"height":198,"view":{"stroke":"#333","strokeWidth":1},"data":{"name":"barB"},"mark":{"type":"rect"},"encoding":{"y":{"field":"v","type":"quantitative","scale":{"domain":[0,0.01687],"nice":false,"zero":false},"axis":{"orient":"right","title":null,"grid":false,"domain":false,"values":[0,0.005,0.01,0.015],"tickSize":12,"tickColor":"#333","tickWidth":1,"labelAngle":-90,"labelAlign":"center","labelBaseline":"middle","labelPadding":26,"labelFontSize":18,"labelFont":"Liberation Sans","labelColor":"#222","labelOverlap":false,"labelBound":false,"labelFlush":false,"labelExpr":"datum.value==0?'0':datum.value==0.005?'0.005':datum.value==0.015?'0.015':''"}},"y2":{"field":"v2"},"color":{"field":"v","type":"quantitative","legend":null,"scale":{"domain":[0,0.00186,0.0037,0.0055,0.0057,0.0074,0.0093,0.0110,0.0112,0.014,0.01687],"range":["#3A00FF","#0019FF","#0080FF","#00E5FF","#00FF4D","#00FF00","#4DFF00","#E6FF00","#FFFF00","#FFDE59","#FFE0B3"]}}}}
],"spacing":73}
]}
